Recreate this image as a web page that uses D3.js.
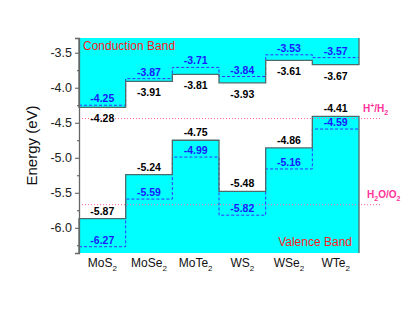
<!DOCTYPE html>
<html>
<head>
<meta charset="utf-8">
<script src="https://cdn.jsdelivr.net/npm/d3@7"></script>
<style>
  body { margin: 0; background: #fff; }
  svg { display: block; font-family: Arial, "Liberation Sans", sans-serif; }
</style>
</head>
<body>
<div id="chart"></div>
<script>
// Band edge data (eV)
const materials = ['MoS', 'MoSe', 'MoTe', 'WS', 'WSe', 'WTe'];
const cbSolid = [-4.28, -3.91, -3.81, -3.93, -3.61, -3.67];
const cbDashed = [-4.25, -3.87, -3.71, -3.84, -3.53, -3.57];
const vbSolid = [-5.87, -5.24, -4.75, -5.48, -4.86, -4.41];
const vbDashed = [-6.27, -5.59, -4.99, -5.82, -5.16, -4.59];
const redoxLevels = [-4.44, -5.67];
const yTicks = [-3.5, -4.0, -4.5, -5.0, -5.5, -6.0];
const yMinorTicks = [-3.75, -4.25, -4.75, -5.25, -5.75, -6.25];

const width = 415, height = 312;
const margin = { top: 38, right: 56, bottom: 59, left: 79 };

const svg = d3.select('#chart').append('svg')
    .attr('width', width)
    .attr('height', height);

const x = d3.scaleBand()
    .domain(materials)
    .range([margin.left, width - margin.right])
    .padding(0);

const y = d3.scaleLinear()
    .domain([-6.36, -3.29])
    .range([height - margin.bottom, margin.top]);

const yTop = y.domain()[1], yBot = y.domain()[0];

// step points: left and right edge of each column
function stepPoints(vals) {
    const pts = [];
    materials.forEach((m, i) => {
        pts.push([x(m), vals[i]]);
        pts.push([x(m) + x.bandwidth(), vals[i]]);
    });
    return pts;
}

// conduction band fill (top of plot down to CB)
const areaTop = d3.area()
    .x(d => d[0])
    .y0(y(yTop))
    .y1(d => y(d[1]));
const areaBot = d3.area()
    .x(d => d[0])
    .y0(y(yBot))
    .y1(d => y(d[1]));

svg.append('path')
    .attr('d', areaTop(stepPoints(cbSolid)))
    .attr('fill', '#00ffff');
svg.append('path')
    .attr('d', areaBot(stepPoints(vbSolid)))
    .attr('fill', '#00ffff');

const line = d3.line().x(d => d[0]).y(d => y(d[1]));

// redox potential lines
svg.selectAll('.redox')
    .data(redoxLevels)
    .enter().append('line')
    .attr('x1', x.range()[0])
    .attr('x2', x.range()[1] + 23)
    .attr('y1', d => y(d))
    .attr('y2', d => y(d))
    .attr('stroke', '#ff6699')
    .attr('stroke-width', 1)
    .attr('stroke-dasharray', '1,2');

// dashed step lines
[cbDashed, vbDashed].forEach(vals => {
    svg.append('path')
        .attr('d', line(stepPoints(vals)))
        .attr('fill', 'none')
        .attr('stroke', '#3333ff')
        .attr('stroke-width', 1)
        .attr('stroke-dasharray', '3,2');
});

// solid step outlines
const cbPts = [[x.range()[0], yTop], ...stepPoints(cbSolid), [x.range()[1], yTop]];
const vbPts = [[x.range()[0], yBot], ...stepPoints(vbSolid), [x.range()[1], yBot]];
[cbPts, vbPts].forEach(pts => {
    svg.append('path')
        .attr('d', line(pts))
        .attr('fill', 'none')
        .attr('stroke', '#4d6b6b')
        .attr('stroke-width', 1.3);
});

// y axis
const yAxis = svg.append('g')
    .attr('transform', `translate(${margin.left},0)`)
    .call(d3.axisLeft(y).tickValues(yTicks).tickFormat(d3.format('.1f')).tickSize(4).tickPadding(3));
yAxis.select('.domain').attr('stroke', '#666').attr('stroke-width', 1.3);
yAxis.selectAll('.tick line').attr('stroke', '#555');
yAxis.selectAll('.tick text')
    .attr('font-size', 12.5)
    .attr('fill', '#222')
    .text(d => d3.format('.1f')(d).replace('−', '-'));

svg.append('g')
    .attr('transform', `translate(${margin.left},0)`)
    .call(d3.axisLeft(y).tickValues(yMinorTicks).tickFormat('').tickSize(2))
    .call(g => g.select('.domain').remove())
    .selectAll('.tick line').attr('stroke', '#555');

svg.append('text')
    .attr('transform', `translate(37,${(y.range()[0] + y.range()[1]) / 2}) rotate(-90)`)
    .attr('text-anchor', 'middle')
    .attr('font-size', 15)
    .attr('fill', '#111')
    .text('Energy (eV)');

// category labels with subscript 2
const catLabels = svg.append('g');
materials.forEach(m => {
    const t = catLabels.append('text')
        .attr('x', x(m) + x.bandwidth() / 2)
        .attr('y', height - margin.bottom + 14)
        .attr('text-anchor', 'middle')
        .attr('font-size', 12)
        .attr('fill', '#111');
    t.append('tspan').text(m);
    t.append('tspan').attr('font-size', 8).attr('dy', 4).text('2');
});

// value labels
const fmt = d3.format('.2f');
function valueLabels(vals, dy, color) {
    svg.append('g').selectAll('text')
        .data(vals)
        .enter().append('text')
        .attr('x', (d, i) => x(materials[i]) + x.bandwidth() / 2)
        .attr('y', d => y(d) + dy)
        .attr('text-anchor', 'middle')
        .attr('font-size', 10.5)
        .attr('font-weight', 'bold')
        .attr('fill', color)
        .text(d => fmt(d).replace('−', '-'));
}
valueLabels(cbDashed, -3, '#1a1aff');
valueLabels(cbSolid, 15, '#000');
valueLabels(vbSolid, -4, '#000');
valueLabels(vbDashed, -3, '#1a1aff');

// band names
svg.append('text')
    .attr('x', margin.left + 4)
    .attr('y', y(yTop) + 12)
    .attr('font-size', 12)
    .attr('fill', '#ff1a1a')
    .text('Conduction Band');
svg.append('text')
    .attr('x', x.range()[1] - 7)
    .attr('y', y(yBot) - 7)
    .attr('text-anchor', 'end')
    .attr('font-size', 12)
    .attr('fill', '#ff1a1a')
    .text('Valence Band');

// redox labels
const h = svg.append('text')
    .attr('x', x.range()[1] + 4)
    .attr('y', y(redoxLevels[0]) - 7)
    .attr('font-size', 10)
    .attr('font-weight', 'bold')
    .attr('fill', '#ff3399');
h.append('tspan').text('H');
h.append('tspan').attr('font-size', 7).attr('dy', -4).text('+');
h.append('tspan').attr('dy', 4).text('/H');
h.append('tspan').attr('font-size', 7).attr('dy', 3).text('2');

const o = svg.append('text')
    .attr('x', x.range()[1] + 8)
    .attr('y', y(redoxLevels[1]) - 7)
    .attr('font-size', 10)
    .attr('font-weight', 'bold')
    .attr('fill', '#ff3399');
o.append('tspan').text('H');
o.append('tspan').attr('font-size', 7).attr('dy', 3).text('2');
o.append('tspan').attr('dy', -3).text('O/O');
o.append('tspan').attr('font-size', 7).attr('dy', 3).text('2');
</script>
</body>
</html>
